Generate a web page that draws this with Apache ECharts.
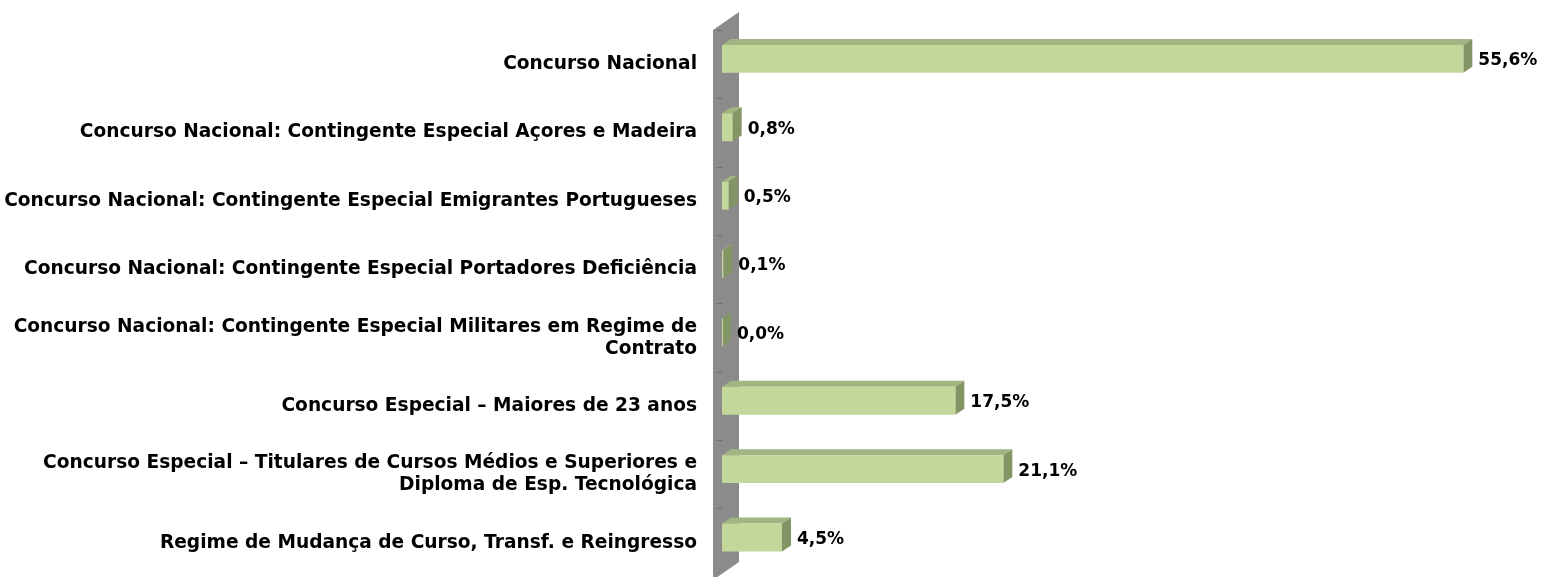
<!DOCTYPE html>
<html>
<head>
<meta charset="utf-8">
<script src="https://cdn.jsdelivr.net/npm/echarts@6/dist/echarts.min.js"></script>
<style>
html,body{margin:0;padding:0;background:#fff;}
#main{width:1544px;height:577px;}
</style>
</head>
<body>
<div id="main"></div>
<script>
var categorias = [
	'Concurso Nacional',
	'Concurso Nacional: Contingente Especial Açores e Madeira',
	'Concurso Nacional: Contingente Especial Emigrantes Portugueses',
	'Concurso Nacional: Contingente Especial Portadores Deficiência',
	'Concurso Nacional: Contingente Especial Militares em Regime de\nContrato',
	'Concurso Especial – Maiores de 23 anos',
	'Concurso Especial – Titulares de Cursos Médios e Superiores e\nDiploma de Esp. Tecnológica',
	'Regime de Mudança de Curso, Transf. e Reingresso'
];
var percentagens = [55.6, 0.8, 0.5, 0.1, 0.0, 17.5, 21.1, 4.5];

var fonte = '"DejaVu Sans", sans-serif';
var DX = 9, DY = 6; // profundidade 3D das barras

function desenharBarra(params, api){
	var idx = api.value(1);
	var v = api.value(0);
	var base = api.coord([0, idx]);
	var fim = api.coord([v, idx]);
	var banda = api.size([0, 1])[1];
	var topo = base[1] - banda * 0.282;
	var fundo = base[1] + banda * 0.127;
	var x0 = base[0], x1 = fim[0];
	return {
		type: 'group',
		children: [
			{
				type: 'polygon',
				shape: {points: [[x0, topo], [x0 + DX, topo - DY], [x1 + DX, topo - DY], [x1, topo]]},
				style: {fill: '#a2b482'}
			},
			{
				type: 'polygon',
				shape: {points: [[x1, topo], [x1 + DX, topo - DY], [x1 + DX, fundo - DY], [x1, fundo]]},
				style: {fill: '#849565'}
			},
			{
				type: 'rect',
				shape: {x: x0, y: topo, width: Math.max(x1 - x0, 1), height: fundo - topo},
				style: {fill: '#c4d79b'}
			},
			{
				type: 'text',
				x: x1 + DX + 6,
				y: (topo + fundo) / 2 + 2,
				style: {
					text: v.toFixed(1).replace('.', ',') + '%',
					fill: '#000',
					font: 'bold 17px ' + fonte,
					align: 'left',
					verticalAlign: 'middle'
				}
			}
		]
	};
}

var myChart = echarts.init(document.getElementById('main'));

var dados = percentagens.map(function(v, i){ return [v, i]; });

var option = {
	animation: false,
	grid: {left: 712, top: 30, width: 800, height: 549},
	graphic: [
		{
			type: 'polygon',
			z: -10,
			shape: {points: [[713, 30], [739, 12], [739, 562], [713, 580]]},
			style: {fill: '#8b8b8b'}
		}
	],
	xAxis: {
		type: 'value',
		min: -0.75,
		max: 59.25,
		show: false
	},
	yAxis: {
		type: 'category',
		inverse: true,
		data: categorias,
		z: 10,
		axisLine: {show: false},
		axisTick: {show: true, inside: false, length: 5, lineStyle: {color: '#6e6e6e', width: 1}},
		axisLabel: {
			margin: 15,
			color: '#000',
			fontWeight: 'bold',
			fontSize: 18.6,
			lineHeight: 22,
			fontFamily: fonte,
			align: 'right'
		},
		splitLine: {show: false}
	},
	series: [
		{
			type: 'custom',
			renderItem: desenharBarra,
			encode: {x: 0, y: 1},
			data: dados
		}
	]
};

myChart.setOption(option);
</script>
</body>
</html>
